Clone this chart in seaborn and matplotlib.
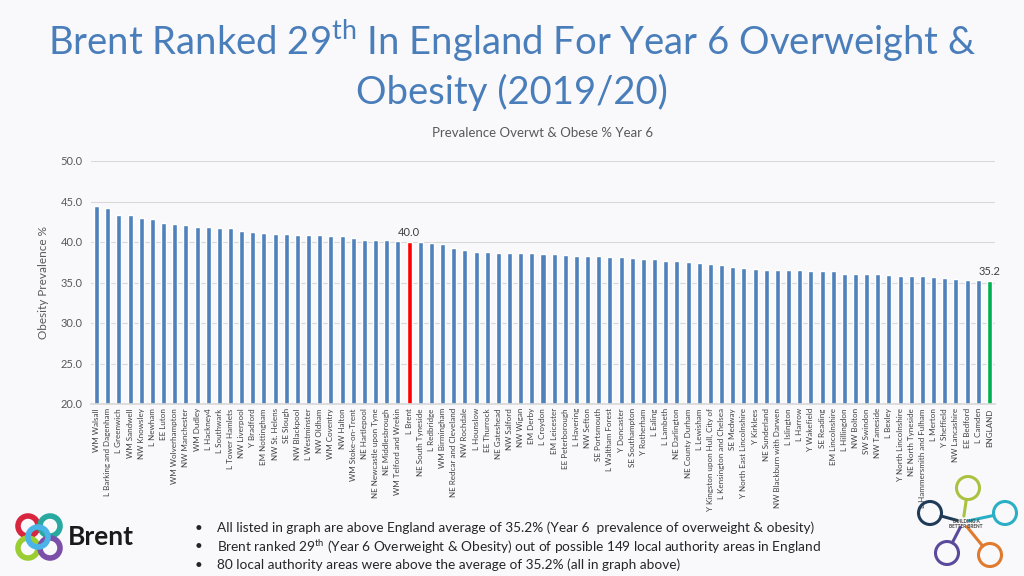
import matplotlib
matplotlib.use("Agg")
import matplotlib.pyplot as plt
import seaborn as sns
import pandas as pd
import numpy as np
from matplotlib.patches import Ellipse
from matplotlib.lines import Line2D

# ---------------------------------------------------------------
# data
# ---------------------------------------------------------------
areas = [
    "WM Walsall", "L Barking and Dagenham", "L Greenwich", "WM Sandwell", "NW Knowsley",
    "L Newham", "EE Luton", "WM Wolverhampton", "NW Manchester", "WM Dudley",
    "L Hackney4", "L Southwark", "L Tower Hamlets", "NW Liverpool", "Y Bradford",
    "EM Nottingham", "NW St. Helens", "SE Slough", "NW Blackpool", "L Westminster",
    "NW Oldham", "WM Coventry", "NW Halton", "WM Stoke-on-Trent", "NE Hartlepool",
    "NE Newcastle upon Tyne", "NE Middlesbrough", "WM Telford and Wrekin", "L Brent",
    "NE South Tyneside", "L Redbridge", "WM Birmingham", "NE Redcar and Cleveland",
    "NW Rochdale", "L Hounslow", "EE Thurrock", "NE Gateshead", "NW Salford", "NW Wigan",
    "EM Derby", "L Croydon", "EM Leicester", "EE Peterborough", "L Havering", "NW Sefton",
    "SE Portsmouth", "L Waltham Forest", "Y Doncaster", "SE Southampton", "Y Rotherham",
    "L Ealing", "L Lambeth", "NE Darlington", "NE County Durham", "L Lewisham",
    "Y Kingston upon Hull, City of", "L Kensington and Chelsea", "SE Medway",
    "Y North East Lincolnshire", "Y Kirklees", "NE Sunderland", "NW Blackburn with Darwen",
    "L Islington", "L Harrow", "Y Wakefield", "SE Reading", "EM Lincolnshire",
    "L Hillingdon", "NW Bolton", "SW Swindon", "NW Tameside", "L Bexley",
    "Y North Lincolnshire", "NE North Tyneside", "L Hammersmith and Fulham", "L Merton",
    "Y Sheffield", "NW Lancashire", "EE Bedford", "L Camden", "ENGLAND",
]
prevalence = [
    44.4, 44.2, 43.3, 43.3, 43.0, 42.8, 42.3, 42.2, 42.1, 41.9,
    41.8, 41.7, 41.7, 41.3, 41.2, 41.1, 41.0, 41.0, 40.9, 40.9,
    40.9, 40.8, 40.7, 40.5, 40.3, 40.3, 40.2, 40.1, 40.0,
    40.0, 39.9, 39.7, 39.3, 39.0, 38.8, 38.8, 38.7, 38.7, 38.6,
    38.6, 38.5, 38.5, 38.4, 38.3, 38.3, 38.3, 38.2, 38.1, 38.0,
    37.9, 37.9, 37.6, 37.6, 37.5, 37.4, 37.3, 37.1, 36.9, 36.8,
    36.7, 36.6, 36.5, 36.5, 36.5, 36.4, 36.4, 36.4, 36.1, 36.1,
    36.0, 36.0, 35.9, 35.8, 35.8, 35.8, 35.7, 35.6, 35.4, 35.3,
    35.3, 35.2,
]
highlight = {"L Brent": "#FF0000", "ENGLAND": "#00B050"}
base_colour = "#4F81BD"

bullets = [
    "All listed in graph are above England average of 35.2% (Year 6  prevalence of overweight & obesity)",
    r"Brent ranked 29$^{\mathrm{th}}$ (Year 6 Overweight & Obesity) out of possible 149 local authority areas in England",
    "80 local authority areas were above the average of 35.2% (all in graph above)",
]

df = pd.DataFrame({"area": areas, "value": prevalence})
palette = {a: highlight.get(a, base_colour) for a in areas}

W, H = 1024, 576


def fx(px):
    return px / W


def fy(py):
    return 1 - py / H


def ring(fig, cx, cy, r, colour, lw):
    fig.patches.append(Ellipse((fx(cx), fy(cy)), 2 * r / W, 2 * r / H,
                               transform=fig.transFigure, fill=False, lw=lw, ec=colour))


# ---------------------------------------------------------------
# styling
# ---------------------------------------------------------------
sns.set_theme(style="white")
plt.rcParams["font.family"] = ["Lato", "DejaVu Sans"]
plt.rcParams["mathtext.fontset"] = "custom"
plt.rcParams["mathtext.rm"] = "Lato"

fig = plt.figure(figsize=(10.24, 5.76), dpi=100)
fig.patch.set_facecolor("#F9F9FB")
ax = fig.add_axes([fx(91), fy(404), 904 / W, 243 / H])
ax.set_facecolor("none")

sns.barplot(data=df, x="area", y="value", hue="area", palette=palette,
            legend=False, width=0.45, ax=ax, saturation=1)

ax.set_ylim(20, 50)
ax.set_xlim(-0.5, len(areas) - 0.5)
ax.set_yticks([20, 25, 30, 35, 40, 45, 50])
ax.set_yticklabels([f"{v:.1f}" for v in ax.get_yticks()], fontsize=8, color="#595959")
ax.yaxis.grid(True, color="#D9D9D9", linewidth=0.8)
ax.set_axisbelow(True)
ax.tick_params(axis="x", labelrotation=90, labelsize=5.8, colors="#404040", length=0, pad=3)
ax.tick_params(axis="y", length=0, pad=22)
for lab in ax.get_yticklabels():
    lab.set_horizontalalignment("left")
for s in ["top", "right", "left"]:
    ax.spines[s].set_visible(False)
ax.spines["bottom"].set_color("#D9D9D9")
ax.set_xlabel("")
ax.set_ylabel("Obesity Prevalence %", fontsize=8.5, color="#595959")
ax.yaxis.set_label_coords(-0.046, 0.5)

# data labels for Brent and England
for name in highlight:
    i = areas.index(name)
    ax.text(i, prevalence[i] + 0.5, f"{prevalence[i]:.1f}", ha="center", va="bottom",
            fontsize=8, color="#404040")

ax.set_title("Prevalence Overwt & Obese % Year 6", fontsize=9.5, color="#595959", pad=17)

# ---------------------------------------------------------------
# slide title and notes
# ---------------------------------------------------------------
title_col = "#4A7EBB"
fig.text(0.5, fy(40), r"Brent Ranked 29$^{\mathrm{th}}$ In England For Year 6 Overweight &",
         ha="center", va="center", fontsize=27.5, color=title_col)
fig.text(0.5, fy(92), "Obesity (2019/20)", ha="center", va="center",
         fontsize=27.5, color=title_col)

for k, line in enumerate(bullets):
    y = fy(528 + 18.5 * k)
    fig.text(fx(195), y, "\u2022", ha="left", va="center", fontsize=9.8, color="#262626")
    fig.text(fx(217), y, line, ha="left", va="center", fontsize=9.8, color="#262626")

# Brent logo (rough)
for cx, cy, c in [(28, 526, "#D7263D"), (50, 526, "#27A9A0"), (28, 548, "#9ACD32"),
                  (50, 548, "#7B4FA8"), (38, 537, "#4BB4E6")]:
    ring(fig, cx, cy, 10, c, 4)
fig.text(fx(68), fy(537), "Brent", fontsize=19, fontweight="bold",
         color="#1A1A1A", va="center", ha="left")

# Building a better Brent logo (rough)
hub = np.array([963, 522])
for cx, cy, c in [(968, 488, "#A9C23F"), (1005, 513, "#2BAFC4"), (930, 513, "#1F3B57"),
                  (947, 553, "#5B4A9B"), (990, 555, "#E07A2E")]:
    ring(fig, cx, cy, 11.5, c, 2.2)
    centre = np.array([cx, cy])
    d = hub - centre
    d = d / np.hypot(*d)
    p0 = centre + d * 11.5
    p1 = hub - d * 6
    fig.add_artist(Line2D([fx(p0[0]), fx(p1[0])], [fy(p0[1]), fy(p1[1])],
                          transform=fig.transFigure, color=c, lw=2.2))
fig.text(fx(966), fy(524), "BUILDING A\nBETTER BRENT", fontsize=3.4,
         ha="center", va="center", color="#404040", fontweight="bold", linespacing=1.0)

fig.savefig("out.png", dpi=100, facecolor=fig.get_facecolor())
